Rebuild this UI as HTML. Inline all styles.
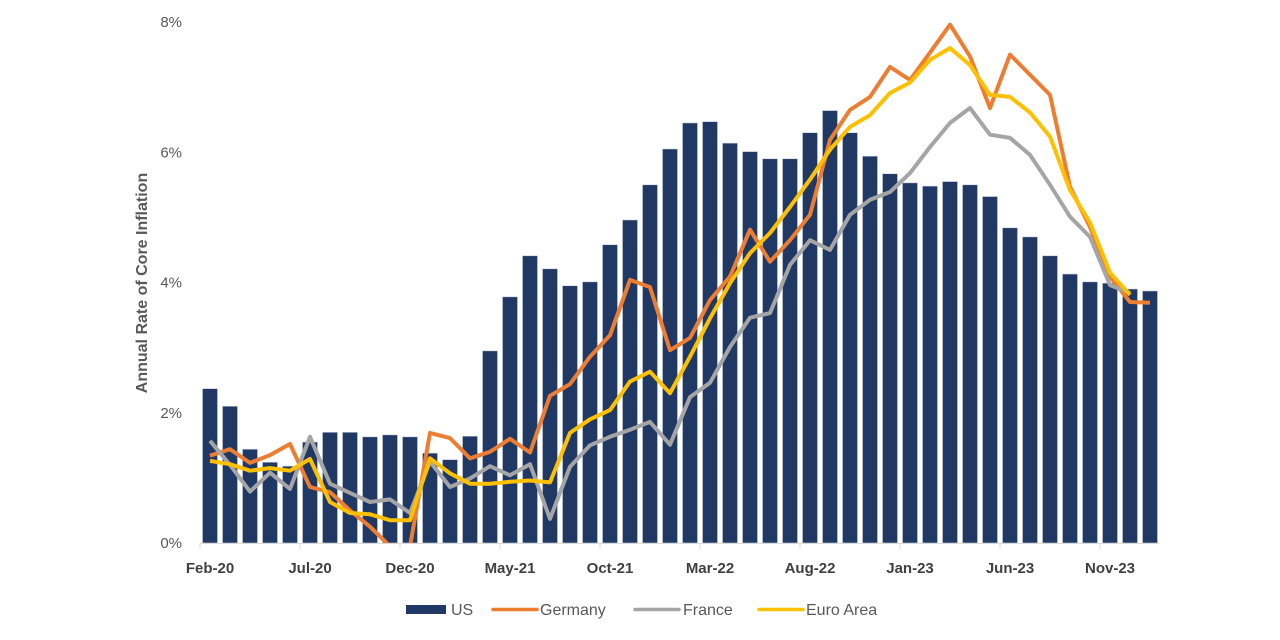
<!DOCTYPE html>
<html><head><meta charset="utf-8">
<style>
html,body{margin:0;padding:0;background:#fff;}
svg{display:block;font-family:"Liberation Sans",Arial,sans-serif;}
</style></head>
<body>
<svg id="chart" width="1280" height="640" viewBox="0 0 1280 640" xmlns="http://www.w3.org/2000/svg">
  <defs><clipPath id="plotclip"><rect x="195" y="0" width="970" height="544"/></clipPath></defs>
  <g id="yaxis"></g>
  <g id="bars"></g>
  <g id="lines" clip-path="url(#plotclip)"></g>
  <g id="xaxis"></g>
  <text transform="translate(147,283) rotate(-90)" text-anchor="middle" font-size="16" font-weight="bold" fill="#595959">Annual Rate of Core Inflation</text>
  <g font-size="16" fill="#595959">
    <g><rect x="406" y="605" width="40" height="9" fill="#1f3864"/><text x="451" y="615">US</text></g>
    <g><line x1="493" y1="609.5" x2="537" y2="609.5" stroke="#ed7d31" stroke-width="3.5" stroke-linecap="round"/><text x="540" y="615">Germany</text></g>
    <g><line x1="635" y1="609.5" x2="679" y2="609.5" stroke="#a5a5a5" stroke-width="3.5" stroke-linecap="round"/><text x="683" y="615">France</text></g>
    <g><line x1="759" y1="609.5" x2="803" y2="609.5" stroke="#ffc000" stroke-width="3.5" stroke-linecap="round"/><text x="806" y="615">Euro Area</text></g>
  </g>
</svg>
<script>
const months = ["Feb-20","Mar-20","Apr-20","May-20","Jun-20","Jul-20","Aug-20","Sep-20","Oct-20","Nov-20","Dec-20","Jan-21","Feb-21","Mar-21","Apr-21","May-21","Jun-21","Jul-21","Aug-21","Sep-21","Oct-21","Nov-21","Dec-21","Jan-22","Feb-22","Mar-22","Apr-22","May-22","Jun-22","Jul-22","Aug-22","Sep-22","Oct-22","Nov-22","Dec-22","Jan-23","Feb-23","Mar-23","Apr-23","May-23","Jun-23","Jul-23","Aug-23","Sep-23","Oct-23","Nov-23","Dec-23","Jan-24"];
const usValues = [2.37,2.10,1.44,1.24,1.18,1.55,1.70,1.70,1.63,1.66,1.63,1.38,1.28,1.64,2.95,3.78,4.41,4.21,3.95,4.01,4.58,4.96,5.50,6.05,6.45,6.47,6.14,6.01,5.90,5.90,6.30,6.64,6.30,5.94,5.67,5.53,5.48,5.55,5.50,5.32,4.84,4.70,4.41,4.13,4.01,3.99,3.90,3.87];
const germanyValues = [1.34,1.44,1.23,1.35,1.52,0.86,0.78,0.50,0.25,-0.05,-0.05,1.69,1.61,1.30,1.40,1.60,1.39,2.26,2.44,2.86,3.19,4.04,3.93,2.96,3.15,3.73,4.09,4.81,4.32,4.65,5.04,6.19,6.65,6.85,7.31,7.11,7.53,7.96,7.47,6.68,7.50,7.19,6.88,5.47,4.85,4.09,3.70,3.69];
const franceValues = [1.57,1.20,0.79,1.08,0.83,1.63,0.91,0.77,0.63,0.67,0.46,1.25,0.86,0.99,1.18,1.04,1.21,0.37,1.17,1.50,1.63,1.74,1.86,1.51,2.24,2.46,3.01,3.46,3.53,4.27,4.65,4.50,5.04,5.27,5.39,5.68,6.08,6.45,6.68,6.27,6.22,5.96,5.50,5.01,4.70,3.96,3.84];
const euroValues = [1.26,1.21,1.11,1.15,1.11,1.29,0.63,0.46,0.44,0.35,0.35,1.30,1.07,0.91,0.91,0.94,0.96,0.93,1.69,1.90,2.04,2.48,2.63,2.30,2.86,3.45,3.99,4.45,4.76,5.16,5.58,6.04,6.39,6.57,6.91,7.07,7.42,7.60,7.34,6.88,6.85,6.61,6.24,5.42,4.92,4.15,3.81];
const yTicks = [0,2,4,6,8];
const yTickLabels = ["0%","2%","4%","6%","8%"];
const xLabelEvery = 5;

const NS="http://www.w3.org/2000/svg";
const x0=210, step=20, yBase=543, yPer=(543-22)/8;
const xPos=i=>x0+i*step;
const yPos=v=>yBase-v*yPer;
function mk(tag,attrs,parent){const e=document.createElementNS(NS,tag);for(const k in attrs)e.setAttribute(k,attrs[k]);parent.appendChild(e);return e;}

const ya=document.getElementById('yaxis');
yTicks.forEach((t,i)=>{
  const tx=mk('text',{x:182,y:yPos(t)+5,'text-anchor':'end','font-size':15,fill:'#595959'},ya);
  tx.textContent=yTickLabels[i];
  
  
});

const bg=document.getElementById('bars');
usValues.forEach((v,i)=>{
  const r=mk('rect',{x:xPos(i)-7.5,y:yPos(v),width:15,height:yBase-yPos(v),fill:'#1f3864',stroke:'#c9cede','stroke-width':0.6},bg);
  
  
});

const lg=document.getElementById('lines');
[[germanyValues,'#ed7d31','germany-line'],[franceValues,'#a5a5a5','france-line'],[euroValues,'#ffc000','euro-area-line']].forEach(([vals,c,n])=>{
  const p=mk('polyline',{points:vals.map((v,i)=>xPos(i)+','+yPos(v).toFixed(1)).join(' '),fill:'none',stroke:c,'stroke-width':4,'stroke-linejoin':'round'},lg);
  
  
});

const xa=document.getElementById('xaxis');
const al=mk('line',{x1:200,y1:yBase+0.5,x2:1159,y2:yBase+0.5,stroke:'#d9d9d9','stroke-width':1},xa);


months.forEach((m,i)=>{
  if(i%xLabelEvery===0){
    const tk=mk('line',{x1:xPos(i)-10,y1:yBase,x2:xPos(i)-10,y2:yBase+6,stroke:'#d9d9d9','stroke-width':1},xa);
    
    
    const t=mk('text',{x:xPos(i),y:573,'text-anchor':'middle','font-size':15,'font-weight':'bold',fill:'#404040'},xa);
    t.textContent=m;
    
    
  }
});
</script>
</body></html>
